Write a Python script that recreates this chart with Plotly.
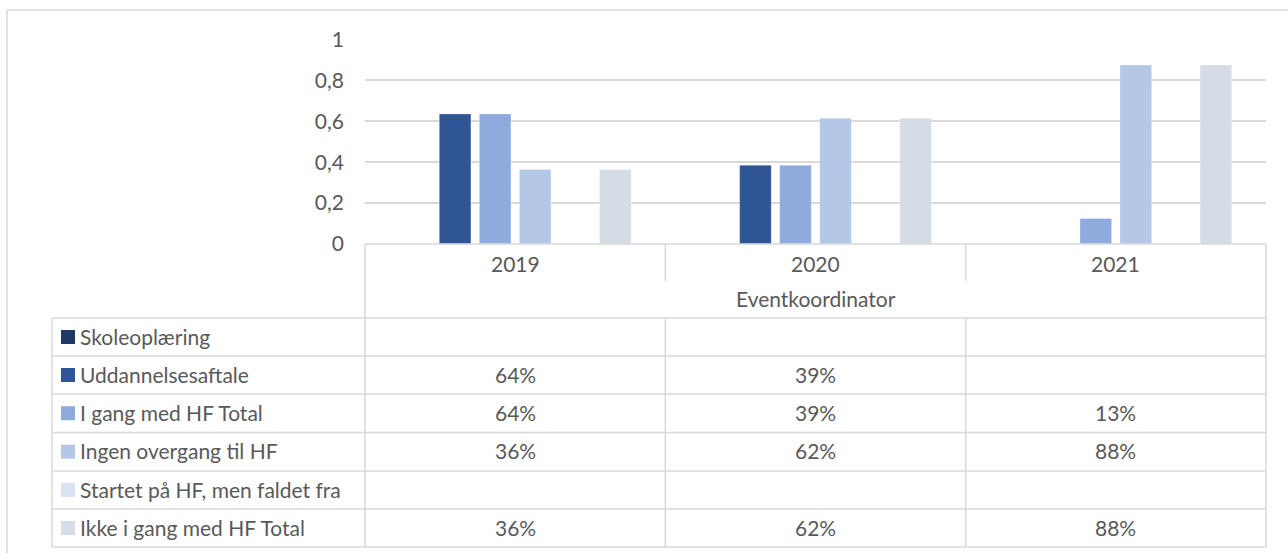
import plotly.graph_objects as go

# Data
years = ["2019", "2020", "2021"]
group_label = "Eventkoordinator"
series_names = [
    "Skoleoplæring",
    "Uddannelsesaftale",
    "I gang med HF Total",
    "Ingen overgang til HF",
    "Startet på HF, men faldet fra",
    "Ikke i gang med HF Total",
]
skoleoplaering = [None, None, None]
uddannelsesaftale = [0.636, 0.385, None]
i_gang_total = [0.636, 0.385, 0.125]
ingen_overgang = [0.364, 0.615, 0.875]
startet_faldet_fra = [None, None, None]
ikke_i_gang_total = [0.364, 0.615, 0.875]
series_values = [skoleoplaering, uddannelsesaftale, i_gang_total,
                 ingen_overgang, startet_faldet_fra, ikke_i_gang_total]
y_ticks = [0, 0.2, 0.4, 0.6, 0.8, 1]

colors = ["#1F3864", "#2F5597", "#8FAADC", "#B4C7E7", "#DAE3F3", "#D6DCE5"]
grid = "#D9D9D9"
txt = "#595959"
font = "Lato"
fsize = 21

W, H = 1288, 553
L, R, T, B = 365, 22, 39, 309
pw, ph = W - L - R, H - T - B


def px(x):
    return (x - L) / pw


def py(y):
    return (H - B - y) / ph


def pct(v):
    return "" if v is None else f"{int(v * 100 + 0.5)}%"


fig = go.Figure()
for name, vals, col in zip(series_names, series_values, colors):
    fig.add_trace(go.Bar(
        x=years, y=vals, name=name,
        marker=dict(color=col, line=dict(color="rgba(255,255,255,0.6)", width=0.5)),
    ))

# table lines
line = dict(color=grid, width=1.5)
top_y, head_y, grp_y = H - B, 281, 318
row_lines = [318, 356, 394, 432.5, 471, 509, 547]
col_x = [365, 665.3, 965.7, 1266]
table_left = 52

fig.add_shape(type="line", xref="paper", yref="paper",
              x0=px(col_x[0]), x1=px(col_x[-1]), y0=py(top_y), y1=py(top_y), line=line)
for x in col_x:
    fig.add_shape(type="line", xref="paper", yref="paper",
                  x0=px(x), x1=px(x), y0=py(top_y), y1=py(head_y), line=line)
for x in [col_x[0], col_x[-1]]:
    fig.add_shape(type="line", xref="paper", yref="paper",
                  x0=px(x), x1=px(x), y0=py(head_y), y1=py(grp_y), line=line)
for x in [table_left] + col_x:
    fig.add_shape(type="line", xref="paper", yref="paper",
                  x0=px(x), x1=px(x), y0=py(row_lines[0]), y1=py(row_lines[-1]), line=line)
for y in row_lines:
    fig.add_shape(type="line", xref="paper", yref="paper",
                  x0=px(table_left), x1=px(col_x[-1]), y0=py(y), y1=py(y), line=line)

# outer chart border (left and top visible)
fig.add_shape(type="line", xref="paper", yref="paper",
              x0=px(7), x1=px(7), y0=py(10), y1=py(H + 5), line=dict(color=grid, width=1.5))
fig.add_shape(type="line", xref="paper", yref="paper",
              x0=px(7), x1=px(W + 5), y0=py(10), y1=py(10), line=dict(color=grid, width=1.5))

# header texts
for i, yr in enumerate(years):
    fig.add_annotation(x=i, xref="x", yref="paper", y=py(263), text=yr,
                       yanchor="middle", showarrow=False,
                       font=dict(family=font, size=fsize, color=txt))
fig.add_annotation(x=px((col_x[0] + col_x[-1]) / 2), xref="paper", yref="paper", y=py(298),
                   text=group_label, yanchor="middle", showarrow=False,
                   font=dict(family=font, size=fsize, color=txt))

# rows
for r, (name, vals, col) in enumerate(zip(series_names, series_values, colors)):
    yc = (row_lines[r] + row_lines[r + 1]) / 2
    fig.add_shape(type="rect", xref="paper", yref="paper",
                  x0=px(61), x1=px(75), y0=py(yc - 7), y1=py(yc + 7),
                  fillcolor=col, line=dict(width=0))
    fig.add_annotation(x=px(78), xref="paper", yref="paper", y=py(yc - 1), text=name,
                       xanchor="left", yanchor="middle", showarrow=False,
                       font=dict(family=font, size=fsize, color=txt))
    for i, v in enumerate(vals):
        if v is not None:
            fig.add_annotation(x=i, xref="x", yref="paper", y=py(yc - 1), text=pct(v),
                               yanchor="middle", showarrow=False,
                               font=dict(family=font, size=fsize, color=txt))

fig.update_layout(
    width=W, height=H,
    margin=dict(l=L, r=R, t=T, b=B),
    barmode="group", bargap=0.2, bargroupgap=0.21,
    plot_bgcolor="white", paper_bgcolor="white",
    showlegend=False, separators=", ",
    font=dict(family=font, color=txt),
)
fig.update_xaxes(type="category", range=[-0.5, 2.5], showticklabels=False, showgrid=False,
                 zeroline=False, showline=False)
fig.update_yaxes(range=[0, 1.002], tickvals=y_ticks, tickformat=".1~f",
                 showgrid=True, gridcolor=grid, gridwidth=1.5, zeroline=False,
                 tickfont=dict(family=font, size=fsize, color=txt), ticklabelstandoff=20)

fig.write_html("out.html", config={"displayModeBar": False},
               post_script="document.body.style.margin='0';")
